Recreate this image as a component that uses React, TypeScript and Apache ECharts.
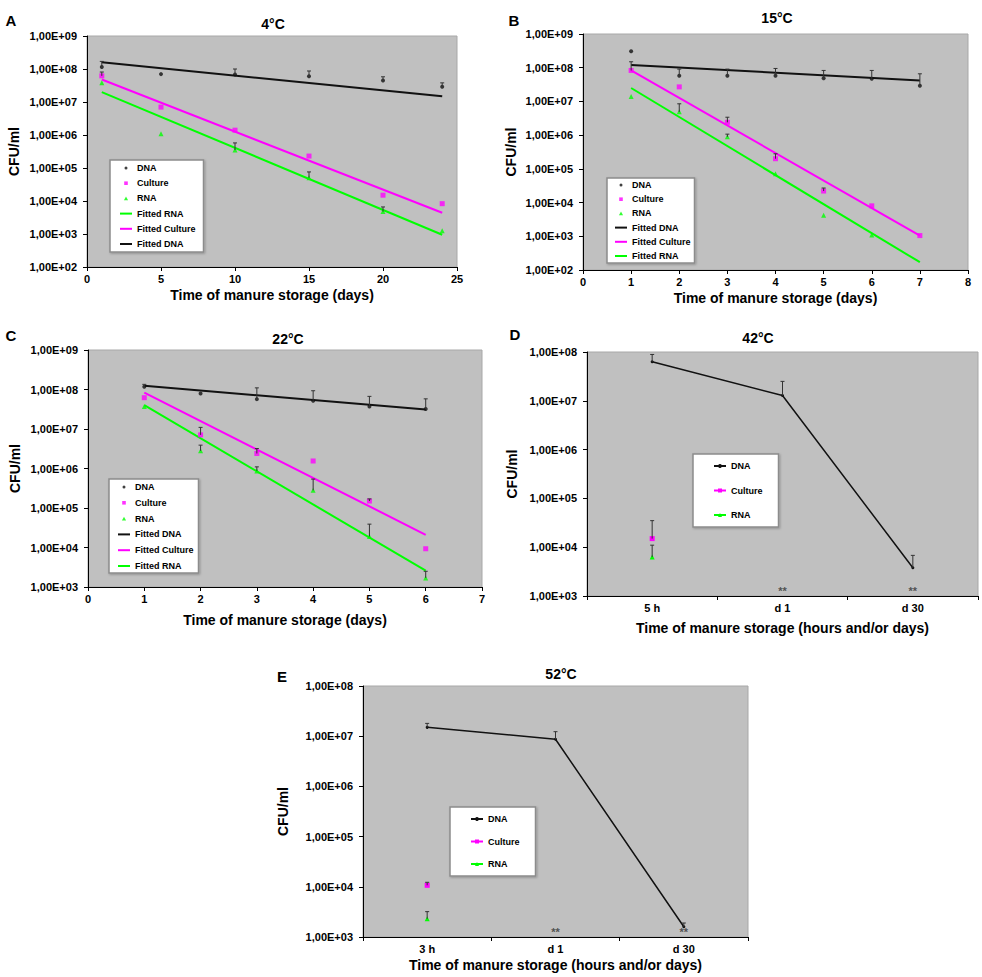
import React, { useEffect, useRef } from 'react';
import * as echarts from 'echarts';

const FONT = '"Liberation Sans", Arial, Helvetica, sans-serif';
const BLACK = '#111111';
const MAGENTA = '#ff00ff';
const GREEN = '#00ff00';
const ERR = '#333333';

type Num = number | null;

// ---------- Panel A : 4°C ----------
const daysA = [1, 5, 10, 15, 20, 24];
const dnaA: Num[] = [1.15e8, 7e7, 6.8e7, 6e7, 4.5e7, 2.9e7];
const dnaErrA: Num[] = [1.7e8, null, 1.0e8, 8.7e7, 5.8e7, 3.8e7];
const cultureA: Num[] = [6.2e7, 7e6, 1.4e6, 2.3e5, 1.5e4, 8.3e3];
const cultureErrA: Num[] = [8.1e7, null, null, null, null, null];
const rnaA: Num[] = [3.8e7, 1.1e6, 3.5e5, 5.1e4, 4.8e3, 1.26e3];
const rnaErrA: Num[] = [null, null, 5.75e5, 7.6e4, 6.6e3, null];
const fitDaysA = [1, 24];
const fitDnaA = [1.6e8, 1.5e7];
const fitCultureA = [4.8e7, 4.4e3];
const fitRnaA = [2e7, 9.5e2];

// ---------- Panel B : 15°C ----------
const daysB = [1, 2, 3, 4, 5, 6, 7];
const dnaB: Num[] = [3.1e8, 5.8e7, 5.8e7, 5.8e7, 4.9e7, 4.7e7, 2.9e7];
const dnaErrB: Num[] = [null, 9.1e7, 9.1e7, 9.5e7, 8.3e7, 8.3e7, 6.6e7];
const cultureB: Num[] = [8.3e7, 2.7e7, 2.4e6, 2.0e5, 2.2e4, 8e3, 1.05e3];
const cultureErrB: Num[] = [1.5e8, null, 3.4e6, 2.8e5, 2.7e4, null, null];
const rnaB: Num[] = [1.4e7, 4.9e6, 8.9e5, 7.2e4, 4.2e3, 1.1e3, null];
const rnaErrB: Num[] = [null, 8.5e6, 1.07e6, null, null, null, null];
const fitDaysB = [1, 7];
const fitDnaB = [1.2e8, 4.2e7];
const fitCultureB = [8.3e7, 1.05e3];
const fitRnaB = [2.5e7, 1.7e2];

// ---------- Panel C : 22°C ----------
const daysC = [1, 2, 3, 4, 5, 6];
const dnaC: Num[] = [1.17e8, 7.9e7, 5.7e7, 5.2e7, 3.7e7, 3.2e7];
const dnaErrC: Num[] = [1.35e8, null, 1.1e8, 9.3e7, 6.7e7, 5.8e7];
const cultureC: Num[] = [6.2e7, 7.1e6, 2.4e6, 1.55e6, 1.5e5, 9.3e3];
const cultureErrC: Num[] = [null, 1.1e7, 3.2e6, null, 1.7e5, null];
const rnaC: Num[] = [3.7e7, 2.8e6, 8.7e5, 2.8e5, 1.9e4, 1.7e3];
const rnaErrC: Num[] = [null, 3.9e6, 1.1e6, 5.4e5, 3.9e4, 2.5e3];
const fitDaysC = [1, 6];
const fitDnaC = [1.25e8, 3.1e7];
const fitCultureC = [8.3e7, 2.1e4];
const fitRnaC = [4e7, 2.6e3];

// ---------- Panel D : 42°C ----------
const catsD = ['5 h', 'd 1', 'd 30'];
const dnaD: Num[] = [6.3e7, 1.28e7, 3.8e3];
const dnaErrD: Num[] = [8.9e7, 2.5e7, 6.8e3];
const cultureD: Num[] = [1.5e4, null, null];
const cultureErrD: Num[] = [3.5e4, null, null];
const rnaD: Num[] = [6.3e3, null, null];
const rnaErrD: Num[] = [1.1e4, null, null];
const notDetectedD = ['d 1', 'd 30'];

// ---------- Panel E : 52°C ----------
const catsE = ['3 h', 'd 1', 'd 30'];
const dnaE: Num[] = [1.5e7, 8.7e6, 1.6e3];
const dnaErrE: Num[] = [1.8e7, 1.23e7, 1.9e3];
const cultureE: Num[] = [1.07e4, null, null];
const cultureErrE: Num[] = [1.23e4, null, null];
const rnaE: Num[] = [2.3e3, null, null];
const rnaErrE: Num[] = [3.2e3, null, null];
const notDetectedE = ['d 1', 'd 30'];

// legend glyphs (12 x 5 box)
const ICON_DOT = 'path://M0,0M12,5M7.5,2.5A1.5,1.5,0,1,1,4.5,2.5A1.5,1.5,0,1,1,7.5,2.5Z';
const ICON_SQUARE = 'path://M0,0M12,5M4.2,0.7L7.8,0.7L7.8,4.3L4.2,4.3Z';
const ICON_TRI = 'path://M0,0M12,5M6,0.6L8.1,4.4L3.9,4.4Z';
const ICON_LINE = 'path://M0,0M12,5M0,1.5L12,1.5L12,3.5L0,3.5Z';

function expLabel(v: number) {
  const e = Math.round(Math.log10(v));
  return '1,00E+' + (e < 10 ? '0' + e : String(e));
}

function pts(xs: number[], ys: Num[]) {
  const out: number[][] = [];
  xs.forEach((x, i) => {
    if (ys[i] != null) out.push([x, ys[i] as number]);
  });
  return out;
}

function errs(xs: number[], lo: Num[], hi: Num[]) {
  const out: number[][] = [];
  xs.forEach((x, i) => {
    if (lo[i] != null && hi[i] != null) out.push([x, lo[i] as number, hi[i] as number]);
  });
  return out;
}

const errorRender = (_params: any, api: any) => {
  const x = api.value(0);
  const a = api.coord([x, api.value(1)]);
  const b = api.coord([x, api.value(2)]);
  const st = { stroke: ERR, lineWidth: 1 };
  return {
    type: 'group',
    children: [
      { type: 'line', shape: { x1: a[0], y1: a[1], x2: b[0], y2: b[1] }, style: st },
      { type: 'line', shape: { x1: b[0] - 2, y1: b[1], x2: b[0] + 2, y2: b[1] }, style: st },
    ],
  };
};

const labelStyle = { color: '#000', fontSize: 11, fontWeight: 'bold', fontFamily: FONT };
const nameStyle = { color: '#000', fontSize: 14, fontWeight: 'bold', fontFamily: FONT };

function axisBase() {
  return {
    axisLine: { show: true, onZero: false, lineStyle: { color: '#000', width: 1 } },
    axisTick: { show: true, inside: false, length: 4, lineStyle: { color: '#000', width: 1 } },
    splitLine: { show: false },
    nameLocation: 'middle',
    nameMoveOverlap: false,
    nameTextStyle: nameStyle,
  };
}

function yLog(gridIndex: number, min: number, max: number, nameGap: number) {
  return {
    ...axisBase(),
    type: 'log',
    logBase: 10,
    gridIndex,
    min,
    max,
    name: 'CFU/ml',
    nameGap,
    axisLabel: { ...labelStyle, margin: 10, formatter: expLabel },
  };
}

function iconFor(name: string) {
  const base = name.split('|')[0];
  if (base.indexOf('Fitted') === 0) return ICON_LINE;
  if (base === 'DNA') return ICON_DOT;
  if (base === 'Culture') return ICON_SQUARE;
  return ICON_TRI;
}

function legendCfg(names: string[], left: number, top: number, padding: number[], itemGap: number, customIcons: boolean) {
  return {
    show: true,
    orient: 'vertical',
    left,
    top,
    padding,
    itemGap,
    itemWidth: 12,
    itemHeight: 5,
    selectedMode: false,
    backgroundColor: '#ffffff',
    borderColor: '#8c8c8c',
    borderWidth: 1.5,
    shadowColor: 'rgba(0,0,0,0.25)',
    shadowBlur: 2,
    shadowOffsetX: 1,
    shadowOffsetY: 1,
    data: customIcons ? names.map((n) => ({ name: n, icon: iconFor(n) })) : names,
    formatter: (n: string) => n.split('|')[0],
    textStyle: { color: '#000', fontSize: 9, fontWeight: 'bold', fontFamily: FONT, lineHeight: 10 },
  };
}

function scatter(name: string, idx: number, data: number[][], symbol: string, size: number, color: string) {
  return {
    name,
    type: 'scatter',
    xAxisIndex: idx,
    yAxisIndex: idx,
    data,
    symbol,
    symbolSize: size,
    itemStyle: { color },
    z: 4,
  };
}

function fitLine(name: string, idx: number, data: number[][], color: string) {
  return {
    name,
    type: 'line',
    xAxisIndex: idx,
    yAxisIndex: idx,
    data,
    symbol: 'none',
    showSymbol: false,
    lineStyle: { color, width: 2 },
    itemStyle: { color },
    z: 3,
  };
}

function errSeries(idx: number, data: number[][]) {
  return {
    type: 'custom',
    xAxisIndex: idx,
    yAxisIndex: idx,
    data,
    encode: { x: 0, y: [1, 2] },
    renderItem: errorRender,
    clip: false,
    z: 5,
    silent: true,
  };
}

function catLine(name: string, idx: number, data: Num[], symbol: string, size: number, color: string, width: number) {
  return {
    name,
    type: 'line',
    xAxisIndex: idx,
    yAxisIndex: idx,
    data,
    symbol,
    symbolSize: size,
    showSymbol: true,
    showAllSymbol: true,
    connectNulls: false,
    lineStyle: { color, width },
    itemStyle: { color },
    z: 3,
  };
}

function ndSeries(idx: number, cats: string[], marks: string[], yMin: number) {
  return {
    type: 'scatter',
    xAxisIndex: idx,
    yAxisIndex: idx,
    data: marks.map((m) => [cats.indexOf(m), yMin]),
    symbolSize: 1,
    itemStyle: { color: 'rgba(0,0,0,0)' },
    clip: false,
    silent: true,
    label: {
      show: true,
      position: 'top',
      distance: -1,
      formatter: '**',
      color: '#333',
      fontSize: 11,
      fontWeight: 'bold',
      fontFamily: FONT,
    },
    z: 6,
  };
}

function buildOption() {
  const grids = [
    { left: 87, top: 36, width: 370, height: 231 },
    { left: 583, top: 34, width: 385, height: 236 },
    { left: 88, top: 350, width: 394, height: 237 },
    { left: 587, top: 352, width: 391, height: 244 },
    { left: 363, top: 686, width: 385, height: 251 },
  ].map((g) => ({
    ...g,
    show: true,
    backgroundColor: '#c0c0c0',
    borderColor: '#a8a8a8',
    borderWidth: 1,
    containLabel: false,
    outerBoundsMode: 'none',
  }));

  const xName1 = 'Time of manure storage (days)';
  const xName2 = 'Time of manure storage (hours and/or days)';
  const catTick = { show: true, inside: false, length: 4, alignWithLabel: false, lineStyle: { color: '#000' } };

  const xAxes = [
    { ...axisBase(), type: 'value', gridIndex: 0, min: 0, max: 25, interval: 5, name: xName1, nameGap: 21, axisLabel: { ...labelStyle, margin: 6 } },
    { ...axisBase(), type: 'value', gridIndex: 1, min: 0, max: 8, interval: 1, name: xName1, nameGap: 21, axisLabel: { ...labelStyle, margin: 6 } },
    { ...axisBase(), type: 'value', gridIndex: 2, min: 0, max: 7, interval: 1, name: xName1, nameGap: 26, axisLabel: { ...labelStyle, margin: 6 } },
    { ...axisBase(), type: 'category', gridIndex: 3, data: catsD, boundaryGap: true, name: xName2, nameGap: 25, axisTick: catTick, axisLabel: { ...labelStyle, margin: 6 } },
    { ...axisBase(), type: 'category', gridIndex: 4, data: catsE, boundaryGap: true, name: xName2, nameGap: 21, axisTick: catTick, axisLabel: { ...labelStyle, margin: 6 } },
  ];

  const yAxes = [
    yLog(0, 1e2, 1e9, 66),
    yLog(1, 1e2, 1e9, 65),
    yLog(2, 1e3, 1e9, 66),
    yLog(3, 1e3, 1e8, 68),
    yLog(4, 1e3, 1e8, 73),
  ];

  const idxD = [0, 1, 2];

  const series: any[] = [
    // A
    fitLine('Fitted RNA|A', 0, pts(fitDaysA, fitRnaA), GREEN),
    fitLine('Fitted Culture|A', 0, pts(fitDaysA, fitCultureA), MAGENTA),
    fitLine('Fitted DNA|A', 0, pts(fitDaysA, fitDnaA), BLACK),
    scatter('DNA|A', 0, pts(daysA, dnaA), 'circle', 4, BLACK),
    scatter('Culture|A', 0, pts(daysA, cultureA), 'rect', 5, MAGENTA),
    scatter('RNA|A', 0, pts(daysA, rnaA), 'triangle', 5, GREEN),
    errSeries(0, [...errs(daysA, dnaA, dnaErrA), ...errs(daysA, cultureA, cultureErrA), ...errs(daysA, rnaA, rnaErrA)]),
    // B
    fitLine('Fitted DNA|B', 1, pts(fitDaysB, fitDnaB), BLACK),
    fitLine('Fitted Culture|B', 1, pts(fitDaysB, fitCultureB), MAGENTA),
    fitLine('Fitted RNA|B', 1, pts(fitDaysB, fitRnaB), GREEN),
    scatter('DNA|B', 1, pts(daysB, dnaB), 'circle', 4, BLACK),
    scatter('Culture|B', 1, pts(daysB, cultureB), 'rect', 5, MAGENTA),
    scatter('RNA|B', 1, pts(daysB, rnaB), 'triangle', 5, GREEN),
    errSeries(1, [...errs(daysB, dnaB, dnaErrB), ...errs(daysB, cultureB, cultureErrB), ...errs(daysB, rnaB, rnaErrB)]),
    // C
    fitLine('Fitted DNA|C', 2, pts(fitDaysC, fitDnaC), BLACK),
    fitLine('Fitted Culture|C', 2, pts(fitDaysC, fitCultureC), MAGENTA),
    fitLine('Fitted RNA|C', 2, pts(fitDaysC, fitRnaC), GREEN),
    scatter('DNA|C', 2, pts(daysC, dnaC), 'circle', 4, BLACK),
    scatter('Culture|C', 2, pts(daysC, cultureC), 'rect', 5, MAGENTA),
    scatter('RNA|C', 2, pts(daysC, rnaC), 'triangle', 5, GREEN),
    errSeries(2, [...errs(daysC, dnaC, dnaErrC), ...errs(daysC, cultureC, cultureErrC), ...errs(daysC, rnaC, rnaErrC)]),
    // D
    catLine('DNA|D', 3, dnaD, 'circle', 3, BLACK, 1.5),
    catLine('Culture|D', 3, cultureD, 'rect', 5, MAGENTA, 1.5),
    catLine('RNA|D', 3, rnaD, 'triangle', 5, GREEN, 1.5),
    errSeries(3, [...errs(idxD, dnaD, dnaErrD), ...errs(idxD, cultureD, cultureErrD), ...errs(idxD, rnaD, rnaErrD)]),
    ndSeries(3, catsD, notDetectedD, 1e3),
    // E
    catLine('DNA|E', 4, dnaE, 'circle', 3, BLACK, 1.5),
    catLine('Culture|E', 4, cultureE, 'rect', 5, MAGENTA, 1.5),
    catLine('RNA|E', 4, rnaE, 'triangle', 5, GREEN, 1.5),
    errSeries(4, [...errs(idxD, dnaE, dnaErrE), ...errs(idxD, cultureE, cultureErrE), ...errs(idxD, rnaE, rnaErrE)]),
    ndSeries(4, catsE, notDetectedE, 1e3),
  ];

  const legends = [
    legendCfg(['DNA|A', 'Culture|A', 'RNA|A', 'Fitted RNA|A', 'Fitted Culture|A', 'Fitted DNA|A'], 110, 160, [3, 8, 3, 10], 5.2, true),
    legendCfg(['DNA|B', 'Culture|B', 'RNA|B', 'Fitted DNA|B', 'Fitted Culture|B', 'Fitted RNA|B'], 607, 178, [2, 4, 2, 8], 4.2, true),
    legendCfg(['DNA|C', 'Culture|C', 'RNA|C', 'Fitted DNA|C', 'Fitted Culture|C', 'Fitted RNA|C'], 109, 479, [3, 5, 2, 9], 5.8, true),
    legendCfg(['DNA|D', 'Culture|D', 'RNA|D'], 693, 454, [7, 16, 7, 20], 14.5, false),
    legendCfg(['DNA|E', 'Culture|E', 'RNA|E'], 450, 807, [7, 16, 7, 20], 12.5, false),
  ];

  const txt = (text: string, x: number, y: number, size: number) => ({
    type: 'text',
    x,
    y,
    silent: true,
    style: {
      text,
      font: `bold ${size}px ${FONT}`,
      fill: '#000',
      textAlign: 'center',
      textVerticalAlign: 'middle',
    },
  });

  const graphic = [
    txt('A', 11, 20, 15),
    txt('B', 514, 20, 15),
    txt('C', 11, 335, 15),
    txt('D', 515, 334, 15),
    txt('E', 282, 676, 15),
    txt('4°C', 273, 24, 14),
    txt('15°C', 777, 18, 14),
    txt('22°C', 288, 339, 14),
    txt('42°C', 758, 338, 14),
    txt('52°C', 561, 674, 14),
  ];

  return {
    animation: false,
    backgroundColor: '#ffffff',
    textStyle: { fontFamily: FONT },
    grid: grids,
    xAxis: xAxes,
    yAxis: yAxes,
    legend: legends,
    series,
    graphic,
  };
}

export default function App() {
  const ref = useRef<HTMLDivElement>(null);
  useEffect(() => {
    if (!ref.current) return;
    const chart = echarts.init(ref.current, undefined, { renderer: 'svg' });
    chart.setOption(buildOption() as any);
    return () => chart.dispose();
  }, []);
  return (
    <div
      ref={ref}
      style={{ position: 'absolute', left: 0, top: 0, width: 982, height: 977, background: '#fff' }}
    />
  );
}
